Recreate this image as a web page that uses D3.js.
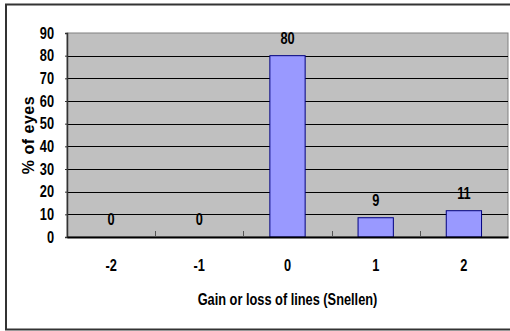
<!DOCTYPE html>
<html>
<head>
<meta charset="utf-8">
<script src="https://cdn.jsdelivr.net/npm/d3@7"></script>
<style>
  html, body { margin: 0; padding: 0; background: #fff; }
  svg text { font-family: "Liberation Sans", Arial, sans-serif; font-weight: bold; fill: #000; }
</style>
</head>
<body>
<svg id="chart" width="510" height="331"></svg>
<script>
const categories = ["-2", "-1", "0", "1", "2"];
const values = [0, 0, 80, 8.5, 11.6];
const valueLabels = ["0", "0", "80", "9", "11"];
const yTicks = [0, 10, 20, 30, 40, 50, 60, 70, 80, 90];
const xTitle = "Gain or loss of lines (Snellen)";
const yTitle = "% of eyes";

const svg = d3.select("#chart");
const plot = { left: 67, right: 508, top: 33, bottom: 237 };
const SX = 0.8; // horizontal compression to mimic a narrow bold face

function narrow(sel) {
  sel.each(function () {
    const t = d3.select(this);
    const xv = +(t.attr("x") || 0);
    t.attr("x", xv / SX).attr("transform", `scale(${SX},1)`);
  });
}

// outer frame
svg.append("rect").attr("x", 6).attr("y", 4.5).attr("width", 520).attr("height", 325)
  .attr("fill", "#fff").attr("stroke", "#333").attr("stroke-width", 2);

const x = d3.scaleBand().domain(categories).range([plot.left, plot.right]).paddingInner(0).paddingOuter(0);
const y = d3.scaleLinear().domain([0, 90]).range([plot.bottom, plot.top]);

// plot background
svg.append("rect").attr("x", plot.left).attr("y", plot.top)
  .attr("width", plot.right - plot.left).attr("height", plot.bottom - plot.top)
  .attr("fill", "#c0c0c0").attr("stroke", "#808080").attr("stroke-width", 1);

// gridlines
svg.append("g").selectAll("line").data(yTicks.filter(d => d > 0 && d < 90)).join("line")
  .attr("x1", plot.left).attr("x2", plot.right)
  .attr("y1", d => Math.round(y(d)) + 0.5).attr("y2", d => Math.round(y(d)) + 0.5)
  .attr("stroke", "#000").attr("stroke-width", 1);

// bars
const bw = x.bandwidth() * 0.4;
svg.append("g").selectAll("rect").data(values).join("rect")
  .attr("x", (d, i) => x(categories[i]) + (x.bandwidth() - bw) / 2)
  .attr("y", d => y(d))
  .attr("width", bw)
  .attr("height", d => y(0) - y(d))
  .attr("fill", "#9999ff").attr("stroke", "#000080").attr("stroke-width", 1);

// y axis
const yAxis = d3.axisLeft(y).tickValues(yTicks).tickSize(2).tickPadding(11);
const gy = svg.append("g").attr("transform", `translate(${plot.left},0)`).call(yAxis);
gy.select(".domain").attr("stroke", "#333").attr("stroke-width", 1.5);
gy.selectAll(".tick line").attr("stroke", "#333");
gy.selectAll("text").style("font-size", "16px").attr("fill", "#000").call(narrow);

// x axis
const xAxis = d3.axisBottom(x).tickSize(0).tickPadding(23);
const gx = svg.append("g").attr("transform", `translate(0,${plot.bottom})`).call(xAxis);
gx.select(".domain").attr("stroke", "#000").attr("stroke-width", 2);
gx.selectAll("text").style("font-size", "16px").attr("fill", "#000").call(narrow);
// category separator ticks (inside)
svg.append("g").selectAll("line").data(categories.slice(1)).join("line")
  .attr("x1", d => Math.round(x(d)) + 0.5).attr("x2", d => Math.round(x(d)) + 0.5)
  .attr("y1", plot.bottom).attr("y2", plot.bottom - 6)
  .attr("stroke", "#555").attr("stroke-width", 1);

// value labels
svg.append("g").selectAll("text").data(values).join("text")
  .attr("x", (d, i) => x(categories[i]) + x.bandwidth() / 2)
  .attr("y", d => y(d) - 12)
  .attr("text-anchor", "middle")
  .style("font-size", "16px")
  .text((d, i) => valueLabels[i])
  .call(narrow);

// axis titles
svg.append("text").attr("x", (plot.left + plot.right) / 2).attr("y", 305)
  .attr("text-anchor", "middle").style("font-size", "16px").text(xTitle).call(narrow);
svg.append("text").attr("transform", `translate(34,${(plot.top + plot.bottom) / 2}) rotate(-90)`)
  .attr("text-anchor", "middle").style("font-size", "16px").style("letter-spacing", "0.5px").text(yTitle);
</script>
</body>
</html>
